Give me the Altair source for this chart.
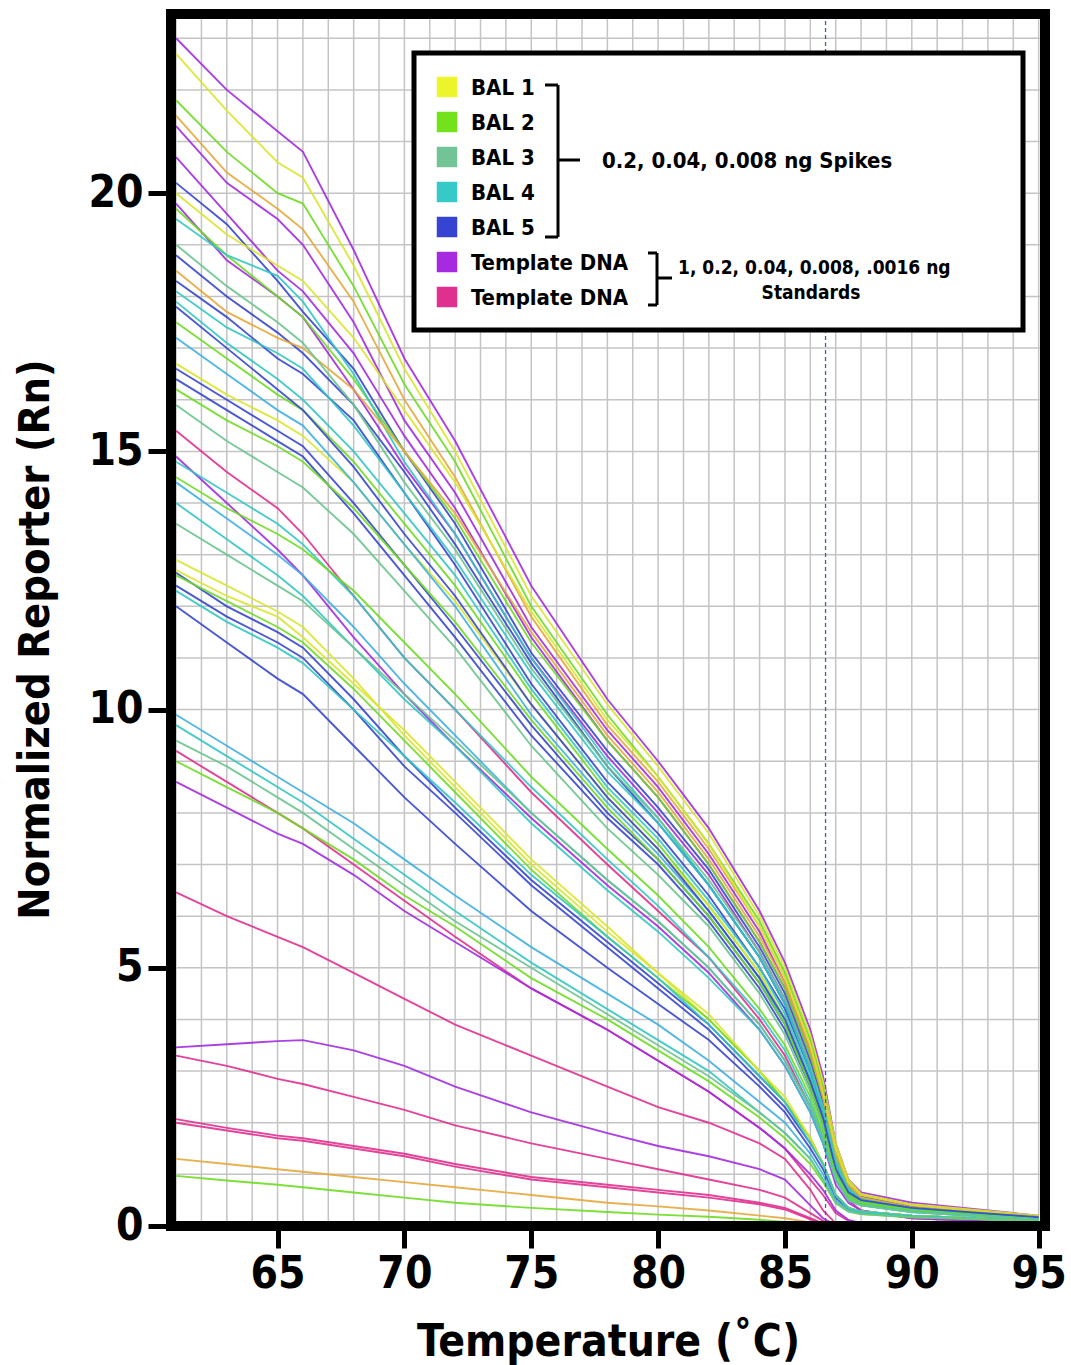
import altair as alt
import pandas as pd

# ---------------- data ----------------
temps = [61, 63, 65, 66, 68, 70, 72, 75, 78, 80, 82, 84, 85, 86, 86.5, 87, 87.5, 88, 90, 95]

series_groups = [
    # upper bundle
    "Template DNA", "BAL 1", "BAL 2", "Orange", "Template DNA", "Template DNA", "BAL 5",
    "Template DNA", "BAL 2", "BAL 4", "BAL 5", "Orange", "BAL 5", "BAL 4", "BAL 2",
    "BAL 1", "BAL 5", "BAL 5", "BAL 3", "BAL 1", "BAL 3", "Sky", "BAL 4", "BAL 2", "BAL 5",
    # second bundle
    "Template DNA 2", "Template DNA", "BAL 4", "BAL 2", "Sky", "BAL 4", "BAL 3",
    # third bundle
    "BAL 5", "BAL 5", "BAL 1", "BAL 5", "BAL 2", "BAL 1", "BAL 4",
    # fourth bundle
    "Sky", "BAL 4", "Template DNA 2", "BAL 2", "Template DNA", "BAL 3",
    # low standards
    "Template DNA 2", "Template DNA", "Template DNA 2", "Template DNA 2", "Template DNA 2",
    "Orange", "BAL 2",
]

series_values = [
    [23.0, 22.0, 21.2, 20.8, 18.9, 16.8, 15.2, 12.4, 10.2, 9.0, 7.7, 6.1, 5.1, 3.8, 2.9, 1.6, 0.9, 0.65, 0.45, 0.2],
    [22.7, 21.6, 20.6, 20.3, 18.6, 16.6, 15.0, 12.2, 10.1, 8.9, 7.6, 6.0, 5.0, 3.7, 2.8, 1.6, 0.9, 0.62, 0.42, 0.2],
    [21.8, 20.8, 20.0, 19.8, 18.2, 16.3, 14.8, 12.0, 9.9, 8.7, 7.4, 5.9, 4.9, 3.6, 2.7, 1.5, 0.85, 0.6, 0.4, 0.18],
    [21.5, 20.4, 19.7, 19.3, 17.9, 16.0, 14.5, 11.8, 9.7, 8.6, 7.3, 5.8, 4.8, 3.5, 2.6, 1.5, 0.85, 0.6, 0.4, 0.18],
    [21.3, 20.2, 19.5, 19.0, 17.5, 15.6, 14.2, 11.6, 9.6, 8.5, 7.2, 5.7, 4.7, 3.4, 2.6, 1.4, 0.8, 0.58, 0.38, 0.17],
    [20.7, 19.6, 18.5, 18.1, 16.9, 15.3, 13.9, 11.4, 9.4, 8.3, 7.0, 5.5, 4.6, 3.3, 2.5, 1.4, 0.8, 0.56, 0.36, 0.17],
    [20.2, 19.4, 18.3, 17.7, 16.6, 15.0, 13.6, 11.1, 9.2, 8.1, 6.9, 5.4, 4.5, 3.2, 2.4, 1.3, 0.75, 0.55, 0.36, 0.17],
    [19.8, 18.7, 18.0, 17.6, 16.2, 14.7, 13.4, 11.0, 9.1, 8.0, 6.8, 5.3, 4.4, 3.1, 2.3, 1.3, 0.75, 0.54, 0.35, 0.16],
    [19.7, 18.8, 18.0, 17.6, 16.4, 15.0, 13.7, 11.3, 9.4, 8.3, 7.0, 5.5, 4.6, 3.3, 2.5, 1.4, 0.8, 0.55, 0.35, 0.16],
    [19.5, 18.8, 18.4, 17.9, 16.5, 14.8, 13.4, 11.0, 9.0, 7.9, 6.6, 5.2, 4.3, 3.0, 2.3, 1.3, 0.75, 0.54, 0.35, 0.16],
    [18.8, 18.0, 17.3, 16.9, 15.9, 14.6, 13.2, 10.9, 8.9, 7.8, 6.6, 5.2, 4.3, 3.0, 2.2, 1.2, 0.7, 0.52, 0.34, 0.16],
    [18.5, 17.7, 17.2, 17.0, 16.2, 15.0, 13.8, 11.5, 9.5, 8.4, 7.1, 5.6, 4.7, 3.4, 2.5, 1.4, 0.8, 0.55, 0.36, 0.17],
    [18.3, 17.6, 16.8, 16.5, 15.6, 14.2, 12.8, 10.5, 8.6, 7.6, 6.4, 5.0, 4.2, 3.0, 2.2, 1.2, 0.7, 0.5, 0.33, 0.15],
    [17.9, 17.1, 16.4, 16.0, 15.0, 13.8, 12.6, 10.4, 8.5, 7.5, 6.3, 5.0, 4.1, 2.9, 2.2, 1.2, 0.7, 0.5, 0.33, 0.15],
    [17.5, 16.8, 16.1, 15.8, 14.8, 13.6, 12.4, 10.3, 8.4, 7.4, 6.2, 4.9, 4.0, 2.8, 2.1, 1.1, 0.65, 0.48, 0.32, 0.15],
    [16.7, 16.1, 15.6, 15.3, 14.4, 13.2, 12.1, 10.1, 8.3, 7.3, 6.2, 4.9, 4.0, 2.8, 2.1, 1.1, 0.65, 0.48, 0.32, 0.15],
    [16.6, 16.0, 15.4, 15.1, 14.0, 12.8, 11.6, 9.7, 8.0, 7.1, 6.0, 4.7, 3.9, 2.7, 2.0, 1.1, 0.62, 0.47, 0.32, 0.15],
    [16.4, 15.8, 15.2, 14.9, 13.8, 12.6, 11.4, 9.5, 7.9, 7.0, 5.9, 4.6, 3.8, 2.7, 2.0, 1.1, 0.6, 0.46, 0.31, 0.14],
    [15.9, 15.2, 14.6, 14.3, 13.4, 12.3, 11.2, 9.3, 7.7, 6.8, 5.8, 4.5, 3.7, 2.6, 1.9, 1.0, 0.6, 0.45, 0.3, 0.14],
    [20.0, 19.2, 18.6, 18.3, 17.2, 15.8, 14.4, 11.9, 9.8, 8.7, 7.4, 5.8, 4.8, 3.5, 2.6, 1.5, 0.85, 0.6, 0.4, 0.18],
    [19.0, 18.2, 17.5, 17.1, 15.9, 14.4, 13.1, 10.8, 8.9, 7.9, 6.7, 5.3, 4.4, 3.1, 2.3, 1.3, 0.72, 0.52, 0.34, 0.16],
    [17.2, 16.5, 15.8, 15.5, 14.4, 13.2, 12.0, 9.9, 8.2, 7.2, 6.1, 4.8, 3.9, 2.8, 2.1, 1.1, 0.65, 0.48, 0.32, 0.15],
    [18.1, 17.4, 16.9, 16.6, 15.5, 14.2, 12.9, 10.7, 8.8, 7.8, 6.6, 5.2, 4.3, 3.0, 2.3, 1.2, 0.7, 0.5, 0.33, 0.15],
    [16.2, 15.6, 15.1, 14.8, 13.9, 12.8, 11.7, 9.8, 8.1, 7.1, 6.0, 4.7, 3.9, 2.7, 2.0, 1.1, 0.62, 0.47, 0.31, 0.14],
    [17.8, 17.0, 16.2, 15.8, 14.7, 13.4, 12.2, 10.1, 8.3, 7.3, 6.1, 4.8, 4.0, 2.8, 2.1, 1.1, 0.65, 0.5, 0.35, 0.17],
    # second bundle
    [15.4, 14.6, 13.9, 13.4, 12.2, 11.0, 10.0, 8.4, 7.0, 6.1, 5.2, 4.0, 3.3, 2.3, 1.7, 0.9, 0.5, 0.3, 0.15, 0.05],
    [14.9, 14.0, 13.1, 12.6, 11.4, 10.3, 9.3, 7.9, 6.6, 5.8, 4.9, 3.8, 3.1, 2.2, 1.6, 0.8, 0.45, 0.3, 0.15, 0.05],
    [14.8, 14.2, 13.6, 13.2, 12.2, 11.0, 10.0, 8.5, 7.1, 6.2, 5.2, 4.1, 3.4, 2.4, 1.8, 1.0, 0.55, 0.42, 0.28, 0.13],
    [14.5, 13.9, 13.4, 13.1, 12.3, 11.3, 10.3, 8.7, 7.3, 6.4, 5.4, 4.2, 3.5, 2.5, 1.8, 1.0, 0.55, 0.42, 0.28, 0.13],
    [14.4, 13.7, 13.0, 12.6, 11.6, 10.5, 9.5, 8.0, 6.7, 5.9, 5.0, 3.9, 3.2, 2.3, 1.7, 0.9, 0.5, 0.4, 0.27, 0.12],
    [14.0, 13.3, 12.6, 12.2, 11.2, 10.2, 9.3, 7.8, 6.5, 5.7, 4.8, 3.8, 3.1, 2.2, 1.6, 0.9, 0.5, 0.4, 0.27, 0.12],
    [13.6, 13.0, 12.4, 12.1, 11.2, 10.3, 9.4, 8.0, 6.7, 5.9, 5.0, 3.9, 3.2, 2.3, 1.7, 0.9, 0.5, 0.4, 0.27, 0.12],
    # third bundle
    [12.4, 11.8, 11.3, 11.0, 10.0, 8.9, 8.0, 6.6, 5.4, 4.6, 3.8, 2.8, 2.3, 1.6, 1.2, 0.6, 0.35, 0.28, 0.2, 0.1],
    [12.65, 12.0, 11.5, 11.2, 10.2, 9.1, 8.1, 6.7, 5.5, 4.7, 3.9, 2.9, 2.4, 1.7, 1.2, 0.6, 0.35, 0.28, 0.2, 0.1],
    [12.9, 12.4, 11.9, 11.6, 10.6, 9.5, 8.5, 7.0, 5.7, 4.9, 4.0, 3.0, 2.4, 1.7, 1.2, 0.6, 0.35, 0.28, 0.2, 0.1],
    [12.0, 11.3, 10.6, 10.3, 9.3, 8.3, 7.4, 6.1, 5.0, 4.3, 3.6, 2.7, 2.2, 1.5, 1.1, 0.55, 0.33, 0.26, 0.18, 0.1],
    [12.6, 12.1, 11.6, 11.3, 10.4, 9.4, 8.4, 6.9, 5.6, 4.8, 4.0, 3.0, 2.4, 1.7, 1.2, 0.6, 0.35, 0.28, 0.2, 0.1],
    [12.7, 12.2, 11.8, 11.4, 10.5, 9.6, 8.6, 7.1, 5.8, 4.9, 4.1, 3.0, 2.5, 1.7, 1.2, 0.6, 0.35, 0.28, 0.2, 0.1],
    [12.3, 11.7, 11.2, 10.9, 10.0, 9.1, 8.2, 6.8, 5.6, 4.8, 3.9, 2.9, 2.4, 1.6, 1.2, 0.6, 0.35, 0.28, 0.2, 0.1],
    # fourth bundle
    [9.9, 9.3, 8.7, 8.4, 7.8, 7.1, 6.4, 5.4, 4.5, 3.9, 3.2, 2.4, 2.0, 1.4, 1.0, 0.5, 0.3, 0.25, 0.18, 0.1],
    [9.7, 9.1, 8.5, 8.2, 7.5, 6.8, 6.1, 5.1, 4.2, 3.6, 3.0, 2.2, 1.8, 1.3, 0.9, 0.45, 0.3, 0.25, 0.18, 0.1],
    [9.2, 8.6, 8.0, 7.7, 7.0, 6.3, 5.6, 4.6, 3.8, 3.2, 2.6, 1.9, 1.5, 0.9, 0.6, 0.25, 0.1, 0.05, 0.03, 0.02],
    [9.0, 8.5, 8.0, 7.7, 7.1, 6.4, 5.8, 4.8, 4.0, 3.4, 2.8, 2.1, 1.7, 1.2, 0.85, 0.45, 0.28, 0.23, 0.17, 0.1],
    [8.6, 8.1, 7.6, 7.4, 6.8, 6.1, 5.5, 4.6, 3.8, 3.2, 2.6, 1.9, 1.5, 1.0, 0.7, 0.3, 0.12, 0.06, 0.04, 0.02],
    [9.4, 8.9, 8.3, 8.0, 7.3, 6.6, 5.9, 5.0, 4.1, 3.5, 2.9, 2.2, 1.8, 1.3, 0.9, 0.45, 0.28, 0.23, 0.17, 0.1],
    # low standards
    [6.46, 6.0, 5.6, 5.4, 4.9, 4.4, 3.9, 3.3, 2.7, 2.3, 2.0, 1.6, 1.3, 0.7, 0.3, 0.05, 0.02, 0.02, 0.02, 0.02],
    [3.46, 3.52, 3.58, 3.6, 3.4, 3.1, 2.7, 2.2, 1.8, 1.55, 1.35, 1.1, 0.9, 0.4, 0.15, 0.02, 0.02, 0.02, 0.02, 0.02],
    [3.3, 3.1, 2.85, 2.75, 2.5, 2.25, 1.95, 1.6, 1.3, 1.1, 0.9, 0.7, 0.55, 0.25, 0.1, 0.02, 0.02, 0.02, 0.02, 0.02],
    [2.07, 1.9, 1.75, 1.7, 1.55, 1.4, 1.2, 0.95, 0.8, 0.7, 0.6, 0.45, 0.35, 0.15, 0.05, 0.02, 0.02, 0.02, 0.02, 0.02],
    [2.0, 1.85, 1.7, 1.65, 1.5, 1.35, 1.15, 0.9, 0.75, 0.65, 0.55, 0.42, 0.32, 0.13, 0.05, 0.02, 0.02, 0.02, 0.02, 0.02],
    [1.3, 1.2, 1.1, 1.05, 0.95, 0.85, 0.75, 0.6, 0.45, 0.38, 0.3, 0.2, 0.15, 0.07, 0.03, 0.02, 0.02, 0.02, 0.02, 0.02],
    [0.97, 0.88, 0.8, 0.75, 0.65, 0.55, 0.45, 0.35, 0.27, 0.22, 0.18, 0.12, 0.08, 0.04, 0.02, 0.02, 0.02, 0.02, 0.02, 0.02],
]

group_domain = ["BAL 1", "BAL 2", "BAL 3", "BAL 4", "BAL 5", "Template DNA", "Template DNA 2", "Orange", "Sky"]
group_colors = ["#d9e52e", "#6fdc24", "#6cc48e", "#33c6c4", "#3646cf", "#a22ce0", "#e0308f", "#e6a83c", "#3fb0e0"]

legend_labels = ["BAL 1", "BAL 2", "BAL 3", "BAL 4", "BAL 5", "Template DNA", "Template DNA"]
legend_colors = ["#ecf52c", "#72e21c", "#72c496", "#37c9c7", "#3545d1", "#a52ae0", "#e0308f"]
spike_note = "0.2, 0.04, 0.008 ng Spikes"
std_note_1 = "1, 0.2, 0.04, 0.008, .0016 ng"
std_note_2 = "Standards"

x_ticks = [65, 70, 75, 80, 85, 90, 95]
y_ticks = [0, 5, 10, 15, 20]
grid_x = list(range(61, 96))
grid_y = list(range(0, 24))
melt_marker = [86.6]

# ---------------- build table ----------------
rows = []
for i, (g, vals) in enumerate(zip(series_groups, series_values)):
    for t, v in zip(temps, vals):
        rows.append({"curve": i, "group": g, "temp": t, "rn": v})
df = pd.DataFrame(rows)

FONT = "DejaVu Sans Condensed, Liberation Sans, sans-serif"
W, H = 874, 1212
xscale = alt.Scale(domain=[60.8, 95.25], nice=False, zero=False)
yscale = alt.Scale(domain=[0, 23.47], nice=False, zero=False)

x_axis = alt.Axis(values=x_ticks, grid=False, domain=False, tickSize=22, tickWidth=5,
                  tickColor="black", labelFontSize=44, labelFont=FONT, labelFontWeight="bold",
                  labelColor="black", labelPadding=4, labelFlush=False,
                  title="Temperature (˚C)", titleFont=FONT, titleFontSize=44, titleFontWeight="bold",
                  titleColor="black", titlePadding=24)
y_axis = alt.Axis(values=y_ticks, grid=False, domain=False, tickSize=23, tickWidth=5,
                  tickColor="black", labelFontSize=44, labelFont=FONT, labelFontWeight="bold",
                  labelColor="black", labelPadding=5, labelFlush=False,
                  title="Normalized Reporter (Rn)", titleFont=FONT, titleFontSize=43,
                  titleFontWeight="bold", titleColor="black", titlePadding=30, titleY=625)

gridx = alt.Chart(pd.DataFrame({"gx": grid_x})).mark_rule(color="#c4c4c4", strokeWidth=1.5).encode(
    x=alt.X("gx:Q", scale=xscale, axis=x_axis))
gridy = alt.Chart(pd.DataFrame({"gy": grid_y})).mark_rule(color="#c4c4c4", strokeWidth=1.5).encode(
    y=alt.Y("gy:Q", scale=yscale, axis=y_axis))

lines = alt.Chart(df).mark_line(strokeWidth=1.9, clip=True, opacity=0.9).encode(
    x=alt.X("temp:Q", scale=xscale, axis=x_axis),
    y=alt.Y("rn:Q", scale=yscale, axis=y_axis),
    color=alt.Color("group:N", scale=alt.Scale(domain=group_domain, range=group_colors), legend=None),
    detail="curve:N",
)

marker = alt.Chart(pd.DataFrame({"m": melt_marker})).mark_rule(
    color="#3b5fa8", strokeWidth=1.3, strokeDash=[4, 3]).encode(x=alt.X("m:Q", scale=xscale, axis=x_axis))

one = pd.DataFrame({"a": [0]})
frame = alt.Chart(one).mark_rect(fill=None, stroke="black", strokeWidth=10).encode(
    x=alt.value(0), x2=alt.value(W), y=alt.value(0), y2=alt.value(H))

# legend (annotation box)
OX, OY = 171, 14
box = alt.Chart(one).mark_rect(fill="white", stroke="black", strokeWidth=5).encode(
    x=alt.value(414 - OX), x2=alt.value(1023 - OX), y=alt.value(53 - OY), y2=alt.value(330 - OY))

layers = [gridx, gridy, lines, marker, frame, box]
for i, (lab, col) in enumerate(zip(legend_labels, legend_colors)):
    yy = 87 - OY + 35 * i
    layers.append(alt.Chart(one).mark_square(size=420, color=col, opacity=1).encode(
        x=alt.value(447 - OX), y=alt.value(yy)))
    layers.append(alt.Chart(one).mark_text(text=lab, align="left", baseline="middle", font=FONT,
                                           fontSize=22, fontWeight="bold", color="black").encode(
        x=alt.value(471 - OX), y=alt.value(yy + 1)))

def seg(x1, y1, x2, y2, w=3):
    if x1 == x2:
        return alt.Chart(one).mark_rule(color="black", strokeWidth=w).encode(
            x=alt.value(x1 - OX), y=alt.value(y1 - OY), y2=alt.value(y2 - OY))
    return alt.Chart(one).mark_rule(color="black", strokeWidth=w).encode(
        x=alt.value(x1 - OX), x2=alt.value(x2 - OX), y=alt.value(y1 - OY))

# brace 1
layers += [seg(545, 85, 558, 85), seg(558, 85, 558, 237), seg(545, 237, 558, 237), seg(558, 160, 580, 160)]
# brace 2
layers += [seg(648, 253, 657, 253), seg(657, 253, 657, 305), seg(648, 305, 657, 305), seg(657, 278, 672, 278)]

layers.append(alt.Chart(one).mark_text(text=spike_note, align="left", baseline="middle", font=FONT,
                                       fontSize=22, fontWeight="bold", color="black").encode(
    x=alt.value(602 - OX), y=alt.value(161 - OY)))
layers.append(alt.Chart(one).mark_text(text=std_note_1, align="left", baseline="middle", font=FONT,
                                       fontSize=19, fontWeight="bold", color="black").encode(
    x=alt.value(678 - OX), y=alt.value(268 - OY)))
layers.append(alt.Chart(one).mark_text(text=std_note_2, align="center", baseline="middle", font=FONT,
                                       fontSize=19, fontWeight="bold", color="black").encode(
    x=alt.value(811 - OX), y=alt.value(293 - OY)))

chart = alt.layer(*layers).properties(
    width=W, height=H,
    autosize=alt.AutoSizeParams(type="none"),
    padding={"left": OX, "top": OY, "right": 1071 - OX - W, "bottom": 1365 - OY - H},
).configure_view(stroke=None).configure(background="white")

chart.save("out.html", embed_options={"renderer": "svg", "actions": False})
